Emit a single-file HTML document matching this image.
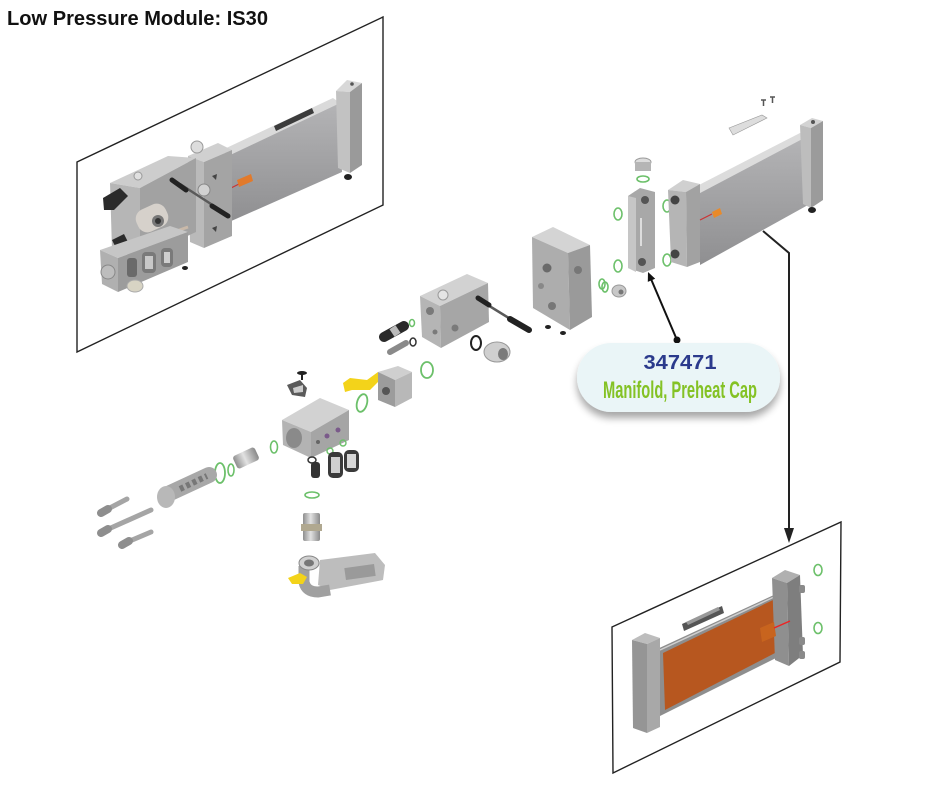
<!DOCTYPE html>
<html><head><meta charset="utf-8"><style>
html,body{margin:0;padding:0;background:#fff}
body{width:940px;height:788px;overflow:hidden;position:relative}
svg{position:absolute;left:0;top:0}
</style></head><body>
<svg width="940" height="788" viewBox="0 0 940 788" xmlns="http://www.w3.org/2000/svg">
<defs>
<linearGradient id="body" x1="0" y1="0" x2="0" y2="1"><stop offset="0" stop-color="#b4b4b6"/><stop offset="1" stop-color="#8f8f91"/></linearGradient>
<linearGradient id="cyl" x1="0" y1="0" x2="1" y2="0"><stop offset="0" stop-color="#8e8e8e"/><stop offset="0.45" stop-color="#e2e2e2"/><stop offset="1" stop-color="#8a8a8a"/></linearGradient>
<filter id="sh" x="-20%" y="-30%" width="140%" height="180%"><feGaussianBlur in="SourceAlpha" stdDeviation="4"/><feOffset dy="6"/><feComponentTransfer><feFuncA type="linear" slope="0.35"/></feComponentTransfer><feMerge><feMergeNode/><feMergeNode in="SourceGraphic"/></feMerge></filter>
</defs>

<text x="7" y="25" font-family="Liberation Sans, sans-serif" font-weight="bold" font-size="20" fill="#111" textLength="261" lengthAdjust="spacingAndGlyphs">Low Pressure Module: IS30</text>

<!-- top-left panel -->
<polygon points="77,162 383,17 383,205 77,352" fill="none" stroke="#222" stroke-width="1.4"/>
<!-- heater body -->
<polygon points="222,150 333,98 340,103 228,156" fill="#dadada"/>
<polygon points="228,156 340,103 342,172 229,222" fill="url(#body)"/>
<polygon points="274,126 312,108 314,113 276,131" fill="#3c3c3c"/>
<polygon points="336,91 347,80 362,83 350,92" fill="#d8d8d8"/>
<polygon points="336,91 350,92 350,173 338,168" fill="#c2c2c2"/>
<polygon points="350,92 362,83 362,165 350,173" fill="#9a9a9a"/>
<circle cx="352" cy="84" r="1.8" fill="#555"/>
<ellipse cx="348" cy="177" rx="4" ry="3" fill="#222"/>
<line x1="229" y1="189" x2="239" y2="184" stroke="#c33" stroke-width="1.2"/>
<polygon points="237,180 251,174 253,181 239,187" fill="#e27a2b"/>
<!-- front cap plate -->
<polygon points="188,156 218,143 232,150 204,162" fill="#d0d0d0"/>
<polygon points="188,156 204,162 204,248 190,242" fill="#bababa"/>
<polygon points="204,162 232,150 232,236 204,248" fill="#a4a4a4"/>
<circle cx="197" cy="147" r="6" fill="#ddd" stroke="#999" stroke-width="1"/>
<circle cx="204" cy="190" r="6" fill="#d2d2d2" stroke="#888" stroke-width="1"/>
<polygon points="212,176 217,174 216,180" fill="#444"/>
<polygon points="212,228 217,226 216,232" fill="#444"/>
<!-- pump block -->
<polygon points="110,183 168,156 196,158 140,188" fill="#cdcdcd"/>
<polygon points="110,183 140,188 140,258 112,250" fill="#b6b6b6"/>
<polygon points="140,188 196,158 196,232 140,258" fill="#a2a2a2"/>
<circle cx="138" cy="176" r="4" fill="#e0e0e0" stroke="#999"/>
<g transform="rotate(-25 152 218)"><rect x="136" y="206" width="32" height="24" rx="10" fill="#d6d1cb"/></g>
<circle cx="158" cy="221" r="6" fill="#777"/><circle cx="158" cy="221" r="3" fill="#333"/>
<polygon points="103,198 120,188 128,196 114,210 104,210" fill="#2b2b2b"/>
<polygon points="112,240 124,234 128,242 116,248" fill="#2b2b2b"/>
<line x1="180" y1="184" x2="228" y2="215" stroke="#5a5a5a" stroke-width="2.5"/>
<line x1="172" y1="180" x2="186" y2="190" stroke="#222" stroke-width="5" stroke-linecap="round"/>
<line x1="212" y1="206" x2="228" y2="216" stroke="#222" stroke-width="5" stroke-linecap="round"/>
<line x1="160" y1="237" x2="188" y2="227" stroke="#c9b9a9" stroke-width="3"/>
<!-- lower manifold -->
<polygon points="100,250 170,226 188,232 118,258" fill="#c6c6c6"/>
<polygon points="100,250 118,258 118,292 102,284" fill="#b0b0b0"/>
<polygon points="118,258 188,232 188,262 118,292" fill="#9c9c9c"/>
<circle cx="108" cy="272" r="7" fill="#bdbdbd" stroke="#888"/>
<rect x="127" y="258" width="10" height="19" rx="3" fill="#6a6a6a"/>
<rect x="142" y="252" width="14" height="21" rx="4" fill="#7a7a7a"/>
<rect x="145" y="256" width="8" height="13" fill="#c8c8c8"/>
<rect x="161" y="248" width="12" height="19" rx="4" fill="#7a7a7a"/>
<rect x="164" y="252" width="6" height="11" fill="#cfcfcf"/>
<ellipse cx="135" cy="286" rx="8" ry="6" fill="#d8d4c4" stroke="#aaa"/>
<ellipse cx="185" cy="268" rx="3" ry="2" fill="#222"/>

<!-- tall block -->
<polygon points="532,237 553,227 590,245 568,253" fill="#d4d4d4"/>
<polygon points="532,237 568,253 570,330 533,308" fill="#adadad"/>
<polygon points="568,253 590,245 592,317 570,330" fill="#9a9a9a"/>
<circle cx="547" cy="268" r="4.5" fill="#6a6a6a"/>
<circle cx="578" cy="270" r="4" fill="#777"/>
<circle cx="552" cy="306" r="4" fill="#777"/>
<circle cx="541" cy="286" r="3" fill="#888"/>
<ellipse cx="548" cy="327" rx="3" ry="2" fill="#222"/>
<ellipse cx="563" cy="333" rx="3" ry="2" fill="#222"/>
<!-- middle pump block -->
<polygon points="420,296 467,274 488,283 440,306" fill="#d2d2d2"/>
<polygon points="420,296 440,306 441,348 422,337" fill="#b5b5b5"/>
<polygon points="440,306 488,283 489,322 441,348" fill="#a6a6a6"/>
<circle cx="443" cy="295" r="5" fill="#e4e4e4" stroke="#999"/>
<circle cx="430" cy="311" r="4" fill="#7a7a7a"/>
<circle cx="435" cy="332" r="2.5" fill="#7a7a7a"/>
<circle cx="455" cy="328" r="3.5" fill="#7a7a7a"/>
<line x1="478" y1="299" x2="512" y2="320" stroke="#5a5a5a" stroke-width="2.5"/>
<line x1="478" y1="298" x2="489" y2="305" stroke="#222" stroke-width="5" stroke-linecap="round"/>
<line x1="510" y1="319" x2="529" y2="330" stroke="#222" stroke-width="6" stroke-linecap="round"/>
<line x1="384" y1="337" x2="404" y2="326" stroke="#2a2a2a" stroke-width="10" stroke-linecap="round"/>
<line x1="392" y1="333" x2="398" y2="329" stroke="#bbb" stroke-width="9"/>
<line x1="390" y1="352" x2="406" y2="343" stroke="#8a8a8a" stroke-width="6" stroke-linecap="round"/>
<ellipse cx="412" cy="323" rx="2.5" ry="3.5" fill="none" stroke="#6cc06a" stroke-width="1.5"/>
<ellipse cx="413" cy="342" rx="3" ry="4" fill="none" stroke="#333" stroke-width="1.5"/>
<ellipse cx="427" cy="370" rx="6" ry="8" fill="none" stroke="#6cc06a" stroke-width="1.8"/>
<ellipse cx="476" cy="343" rx="5" ry="7" fill="none" stroke="#222" stroke-width="2"/>
<ellipse cx="497" cy="352" rx="13" ry="10" fill="#cfcfcf" stroke="#999"/>
<ellipse cx="503" cy="354" rx="5" ry="6" fill="#7a7a7a"/>

<!-- lower-left group -->
<ellipse cx="302" cy="373" rx="5" ry="2" fill="#222"/><line x1="302" y1="373" x2="302" y2="380" stroke="#222" stroke-width="2"/>
<polygon points="287,385 300,380 307,388 305,397 292,395" fill="#5a5a5a"/>
<polygon points="293,388 303,385 303,392 294,393" fill="#ccc"/>
<polygon points="343,383 350,378 367,380 378,372 382,378 370,390 352,390 345,392" fill="#f3d31a"/>
<polygon points="378,372 398,366 412,372 395,380" fill="#cfcfcf"/>
<polygon points="378,372 395,380 395,407 378,400" fill="#9c9c9c"/>
<polygon points="395,380 412,372 412,398 395,407" fill="#b8b8b8"/>
<circle cx="386" cy="391" r="4" fill="#555"/>
<ellipse cx="427" cy="370" rx="0" ry="0"/>
<ellipse cx="362" cy="403" rx="5" ry="9" fill="none" stroke="#6cc06a" stroke-width="1.8" transform="rotate(15 362 403)"/>
<polygon points="282,420 320,398 349,410 311,432" fill="#d2d2d2"/>
<polygon points="282,420 311,432 311,458 283,445" fill="#b3b3b3"/>
<polygon points="311,432 349,410 349,440 311,458" fill="#a5a5a5"/>
<ellipse cx="294" cy="438" rx="8" ry="10" fill="#8a8a8a"/>
<circle cx="327" cy="436" r="2.5" fill="#7a5a8a"/>
<circle cx="338" cy="430" r="2.5" fill="#7a5a8a"/>
<circle cx="318" cy="442" r="2" fill="#666"/>
<ellipse cx="274" cy="447" rx="3.5" ry="6" fill="none" stroke="#6cc06a" stroke-width="1.6"/>
<ellipse cx="330" cy="451" rx="3" ry="3" fill="none" stroke="#6cc06a" stroke-width="1.4"/>
<ellipse cx="343" cy="443" rx="3" ry="3" fill="none" stroke="#6cc06a" stroke-width="1.4"/>
<ellipse cx="312" cy="460" rx="4" ry="3" fill="none" stroke="#333" stroke-width="1.5"/>
<rect x="311" y="462" width="9" height="16" rx="3" fill="#333"/>
<rect x="328" y="452" width="15" height="26" rx="5" fill="#3a3a3a"/><rect x="331" y="457" width="9" height="16" fill="#cfcfcf"/>
<rect x="344" y="450" width="15" height="22" rx="5" fill="#3a3a3a"/><rect x="347" y="454" width="9" height="14" fill="#d6d6d6"/>
<g transform="rotate(-25 246 458)"><rect x="234" y="451" width="24" height="14" rx="3" fill="url(#cyl)"/></g>
<ellipse cx="220" cy="473" rx="5" ry="10" fill="none" stroke="#6cc06a" stroke-width="1.8"/>
<ellipse cx="231" cy="470" rx="3" ry="6" fill="none" stroke="#6cc06a" stroke-width="1.6"/>
<line x1="168" y1="494" x2="209" y2="475" stroke="#a8a8a8" stroke-width="16" stroke-linecap="round"/>
<line x1="180" y1="489" x2="207" y2="476" stroke="#777" stroke-width="6" stroke-dasharray="4 3"/>
<ellipse cx="166" cy="497" rx="9" ry="11" fill="#b8b8b8"/>
<line x1="104" y1="511" x2="127" y2="499" stroke="#a5a5a5" stroke-width="5" stroke-linecap="round"/>
<line x1="101" y1="513" x2="108" y2="509" stroke="#8e8e8e" stroke-width="8" stroke-linecap="round"/>
<line x1="104" y1="531" x2="151" y2="510" stroke="#a5a5a5" stroke-width="5" stroke-linecap="round"/>
<line x1="101" y1="533" x2="108" y2="529" stroke="#8e8e8e" stroke-width="8" stroke-linecap="round"/>
<line x1="125" y1="543" x2="151" y2="532" stroke="#a5a5a5" stroke-width="5" stroke-linecap="round"/>
<line x1="122" y1="545" x2="129" y2="541" stroke="#8e8e8e" stroke-width="8" stroke-linecap="round"/>
<ellipse cx="312" cy="495" rx="7" ry="3" fill="none" stroke="#6cc06a" stroke-width="1.6"/>
<rect x="303" y="513" width="17" height="28" rx="2" fill="url(#cyl)"/>
<rect x="301" y="524" width="21" height="7" fill="#b0a890"/>
<polygon points="320,560 375,553 385,565 383,580 330,590 318,585" fill="#bdbdbd"/>
<rect x="345" y="566" width="30" height="12" fill="#9a9a9a" transform="rotate(-8 360 572)"/>
<path d="M304,566 L304,582 Q306,592 318,592 L330,590" fill="none" stroke="#a0a0a0" stroke-width="11"/>
<ellipse cx="309" cy="563" rx="10" ry="7" fill="#d0d0d0" stroke="#888"/>
<ellipse cx="309" cy="563" rx="5" ry="3.5" fill="#777"/>
<polygon points="288,578 300,573 307,577 303,584 292,584" fill="#f3d31a"/>

<!-- right module -->
<path d="M761,100 h5 M763.5,100 v6 M770,97 h5 M772.5,97 v6" stroke="#555" stroke-width="1.5"/>
<polygon points="729,128 762,115 767,118 733,135" fill="#ddd" stroke="#999" stroke-width="0.6"/>
<ellipse cx="643" cy="162" rx="8" ry="4" fill="#dcdcdc" stroke="#999"/>
<rect x="635" y="162" width="16" height="9" fill="#b5b5b5"/>
<ellipse cx="643" cy="179" rx="6" ry="3" fill="none" stroke="#6cc06a" stroke-width="1.6"/>
<polygon points="628,196 640,188 655,192 655,268 643,273 628,268" fill="#a8a8a8"/>
<polygon points="628,196 636,198 636,272 628,268" fill="#c6c6c6"/>
<circle cx="645" cy="200" r="4" fill="#555"/>
<circle cx="642" cy="262" r="4" fill="#555"/>
<line x1="641" y1="218" x2="641" y2="246" stroke="#ddd" stroke-width="2"/>
<ellipse cx="618" cy="214" rx="4" ry="6" fill="none" stroke="#6cc06a" stroke-width="1.6"/>
<ellipse cx="618" cy="266" rx="4" ry="6" fill="none" stroke="#6cc06a" stroke-width="1.6"/>
<ellipse cx="667" cy="206" rx="4" ry="6" fill="none" stroke="#6cc06a" stroke-width="1.6"/>
<ellipse cx="667" cy="260" rx="4" ry="6" fill="none" stroke="#6cc06a" stroke-width="1.6"/>
<polygon points="697,186 800,133 806,137 700,193" fill="#dcdcdc"/>
<polygon points="700,193 806,137 808,205 700,265" fill="url(#body)"/>
<polygon points="668,190 683,180 700,184 686,192" fill="#d0d0d0"/>
<polygon points="668,190 686,192 687,267 671,262" fill="#b5b5b5"/>
<polygon points="686,192 700,184 700,262 687,267" fill="#a2a2a2"/>
<circle cx="675" cy="200" r="4.5" fill="#444"/>
<circle cx="675" cy="254" r="4.5" fill="#444"/>
<polygon points="800,125 812,118 823,121 811,128" fill="#d3d3d3"/>
<polygon points="800,125 811,128 811,208 803,204" fill="#bdbdbd"/>
<polygon points="811,128 823,121 823,200 811,208" fill="#9b9b9b"/>
<circle cx="813" cy="122" r="2" fill="#555"/>
<ellipse cx="812" cy="210" rx="4" ry="3" fill="#222"/>
<line x1="700" y1="220" x2="712" y2="214" stroke="#c33" stroke-width="1.2"/>
<polygon points="712,212 720,208 722,214 714,218" fill="#e88a2a"/>
<ellipse cx="602" cy="284" rx="3" ry="5" fill="none" stroke="#6cc06a" stroke-width="1.6"/>
<ellipse cx="605" cy="287" rx="3" ry="5" fill="none" stroke="#6cc06a" stroke-width="1.6"/>
<ellipse cx="619" cy="291" rx="7" ry="6" fill="#c8c8c8" stroke="#999"/>
<circle cx="621" cy="292" r="2.5" fill="#777"/>

<!-- connectors -->
<polyline points="763,231 789,253 789,532" fill="none" stroke="#222" stroke-width="2"/>
<polygon points="784,528 794,528 789,543" fill="#222"/>
<line x1="677" y1="340" x2="651" y2="279" stroke="#111" stroke-width="2"/>
<polygon points="648,272 655.2,278.7 647.8,281.9" fill="#111"/>
<circle cx="677" cy="340" r="3.5" fill="#111"/>

<!-- bubble -->
<rect x="577" y="343" width="203" height="69" rx="34.5" fill="#eaf5f7" filter="url(#sh)"/>
<text x="680" y="369" text-anchor="middle" font-family="Liberation Sans, sans-serif" font-weight="bold" font-size="20" fill="#2b3a8c" textLength="73" lengthAdjust="spacingAndGlyphs">347471</text>
<text x="680" y="398" text-anchor="middle" font-family="Liberation Sans Narrow, Liberation Sans, sans-serif" font-weight="bold" font-size="24" fill="#84c225" textLength="154" lengthAdjust="spacingAndGlyphs">Manifold, Preheat Cap</text>

<!-- bottom-right panel -->
<polygon points="612,627 841,522 840,662 613,773" fill="none" stroke="#222" stroke-width="1.4"/>
<polygon points="655,650 776,594 780,656 660,716" fill="#8e8e8e"/>
<polygon points="663,653 773,600 775,653 665,710" fill="#b7571f"/>
<line x1="660" y1="650" x2="774" y2="597" stroke="#cfcfcf" stroke-width="1.5"/>
<polygon points="682,624 722,606 724,613 684,631" fill="#555"/>
<polygon points="686,622 718,607 720,610 688,625" fill="#999"/>
<polygon points="632,640 645,633 660,638 647,644" fill="#bdbdbd"/>
<polygon points="632,640 647,644 647,733 633,728" fill="#959595"/>
<polygon points="647,644 660,638 660,727 647,733" fill="#a8a8a8"/>
<polygon points="772,578 785,570 800,575 787,583" fill="#b0b0b0"/>
<polygon points="772,578 787,583 789,666 775,660" fill="#8f8f8f"/>
<polygon points="787,583 800,575 803,655 789,666" fill="#7e7e7e"/>
<rect x="799" y="585" width="6" height="8" rx="2" fill="#8a8a8a"/>
<rect x="799" y="637" width="6" height="8" rx="2" fill="#8a8a8a"/>
<rect x="799" y="651" width="6" height="8" rx="2" fill="#8a8a8a"/>
<polygon points="760,628 774,622 776,636 762,642" fill="#c8641e"/>
<line x1="774" y1="628" x2="790" y2="621" stroke="#e22" stroke-width="1.5"/>
<ellipse cx="818" cy="570" rx="4" ry="5.5" fill="none" stroke="#6cc06a" stroke-width="1.6"/>
<ellipse cx="818" cy="628" rx="4" ry="5.5" fill="none" stroke="#6cc06a" stroke-width="1.6"/>
</svg>
</body></html>
